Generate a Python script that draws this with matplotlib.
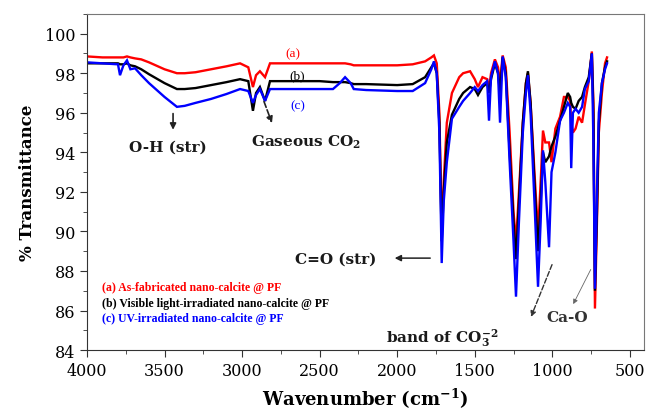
import matplotlib
matplotlib.use("Agg")
import matplotlib.pyplot as plt
from matplotlib.ticker import MultipleLocator

plt.rcParams['mathtext.fontset'] = 'dejavuserif'

wavenumber = [4000, 3900, 3800, 3787, 3765, 3742, 3720, 3690, 3650, 3600, 3500, 3420, 3370, 3300,
              3200, 3100, 3013, 2960, 2930, 2910, 2885, 2852, 2820, 2700, 2500, 2414, 2370, 2336,
              2300, 2280, 2200, 2000, 1900, 1820, 1780, 1763, 1745, 1728, 1713, 1700, 1680, 1647,
              1600, 1575, 1530, 1500, 1479, 1450, 1420, 1408, 1395, 1370, 1350, 1337, 1320, 1300,
              1275, 1250, 1234, 1215, 1190, 1170, 1157, 1140, 1115, 1092, 1075, 1060, 1045, 1021,
              1005, 980, 950, 925, 900, 885, 878, 867, 850, 830, 808, 790, 765, 745, 735, 725,
              712, 700, 680, 660, 647]

t_as_fabricated = [98.85, 98.8, 98.8, 98.8, 98.8, 98.85, 98.8, 98.75, 98.7, 98.55, 98.2, 98.0, 98.0, 98.05,
                   98.2, 98.35, 98.5, 98.3, 97.3, 97.9, 98.1, 97.8, 98.5, 98.5, 98.5, 98.5, 98.5, 98.5,
                   98.45, 98.4, 98.4, 98.4, 98.45, 98.6, 98.8, 98.9, 98.5, 96.0, 90.0, 92.5, 95.5, 97.0,
                   97.8, 98.0, 98.1, 97.7, 97.3, 97.8, 97.7, 97.2, 98.0, 98.7, 98.3, 97.5, 98.9, 98.3,
                   95.0, 91.0, 89.4, 92.0, 95.5, 97.5, 98.0, 96.5, 93.0, 89.9, 92.5, 95.1, 94.5, 94.5,
                   93.5, 95.2, 95.8, 96.8, 96.8, 96.6, 95.5, 95.0, 95.2, 95.8, 95.5, 96.4, 97.6, 99.1, 96.5, 86.1,
                   90.5, 95.0, 97.0, 98.5, 98.8]

t_visible = [98.5, 98.5, 98.5, 98.45, 98.45, 98.5, 98.4, 98.35, 98.2, 97.95, 97.5, 97.2, 97.2, 97.25,
             97.4, 97.55, 97.7, 97.6, 96.1, 97.0, 97.3, 96.6, 97.6, 97.6, 97.6, 97.55, 97.55, 97.55,
             97.5, 97.45, 97.45, 97.4, 97.45, 97.8, 98.3, 98.5, 98.0, 95.5, 89.5, 92.0, 94.5, 95.9,
             96.7, 97.0, 97.3, 97.2, 96.9, 97.3, 97.5, 97.0, 97.7, 98.5, 98.0, 97.0, 98.8, 98.0,
             94.0, 90.5, 88.6, 91.5, 95.5, 97.5, 98.1, 96.5, 92.5, 89.0, 91.5, 94.0, 93.5, 93.8,
             94.3, 94.8, 95.6, 96.3, 97.0, 96.8, 96.5, 96.3, 96.2, 96.6, 96.8, 97.3, 97.8, 99.0, 96.0, 87.0,
             91.0, 95.5, 97.5, 98.3, 98.6]

t_uv = [98.55, 98.5, 98.45, 97.9, 98.4, 98.65, 98.2, 98.25, 97.9, 97.5, 96.8, 96.3, 96.35, 96.5,
        96.7, 96.95, 97.2, 97.1, 96.5, 96.9, 97.2, 96.6, 97.2, 97.2, 97.2, 97.2, 97.5, 97.8,
        97.5, 97.2, 97.15, 97.1, 97.1, 97.5, 98.2, 98.6, 98.0, 95.0, 88.4, 91.5, 93.5, 95.7,
        96.3, 96.6, 97.0, 97.3, 97.1, 97.4, 97.6, 95.6, 97.8, 98.6, 98.0, 95.5, 98.85, 97.8,
        93.5, 89.5, 86.7, 90.5, 95.0, 97.0, 97.9, 96.0, 91.5, 87.2, 90.5, 94.1, 92.5, 89.2,
        93.0, 94.0, 95.6, 96.0, 96.5, 96.3, 93.2, 96.0, 96.2, 96.0, 96.3, 97.2, 97.6, 99.0, 94.5, 87.1,
        92.0, 96.0, 97.5, 98.2, 98.5]

legend_labels = ["(a) As-fabricated nano-calcite @ PF",
                 "(b) Visible light-irradiated nano-calcite @ PF",
                 "(c) UV-irradiated nano-calcite @ PF"]
colors = ["#ff0000", "#000000", "#0000ff"]

fig = plt.figure(figsize=(6.49, 4.14), dpi=100)
ax = fig.add_axes([0.134, 0.152, 0.858, 0.812])

for vals, c in zip([t_as_fabricated, t_visible, t_uv], colors):
    ax.plot(wavenumber, vals, color=c, lw=1.7, solid_joinstyle='miter')

ax.set_xlim(4000, 410)
ax.set_ylim(84, 101)
ax.xaxis.set_major_locator(MultipleLocator(500))
ax.xaxis.set_minor_locator(MultipleLocator(250))
ax.yaxis.set_major_locator(MultipleLocator(2))
ax.yaxis.set_minor_locator(MultipleLocator(1))
ax.tick_params(which='both', direction='out', top=False, right=False, color='#333333')
ax.tick_params(which='major', length=5, labelsize=11.5)
ax.tick_params(which='minor', length=3)
for lab in ax.get_xticklabels() + ax.get_yticklabels():
    lab.set_fontfamily('DejaVu Serif')
for s in ['left', 'bottom']:
    ax.spines[s].set_color('#333333')
for s in ['top', 'right']:
    ax.spines[s].set_color('#777777')

ax.set_xlabel("Wavenumber (cm$^{\\mathbf{-1}}$)", fontfamily='DejaVu Serif', fontweight='bold',
              fontsize=13, labelpad=5)
ax.set_ylabel("% Transmittance", fontfamily='DejaVu Serif', fontweight='bold', fontsize=12, labelpad=6)

# curve tags
ax.text(2672, 99.0, "(a)", color=colors[0], fontsize=9.5, family='Liberation Serif', ha='center', va='center')
ax.text(2646, 97.9, "(b)", color=colors[1], fontsize=9.5, family='Liberation Serif', ha='center', va='center')
ax.text(2640, 96.4, "(c)", color=colors[2], fontsize=9.5, family='Liberation Serif', ha='center', va='center')

# legend text
for i, (lab, c) in enumerate(zip(legend_labels, colors)):
    ax.text(3900, 87.2 - i * 0.8, lab, color=c, fontsize=8.5, fontweight='bold',
            family='Liberation Serif', ha='left', va='center')

tc = '#1a1a1a'
ax.text(3478, 94.3, "O-H (str)", fontsize=11, fontweight='bold', family='DejaVu Serif',
        ha='center', va='center', color=tc)
ax.annotate("", xy=(3445, 95.0), xytext=(3445, 96.1),
            arrowprops=dict(arrowstyle='-|>', color='#222222', lw=1.2, mutation_scale=9))
ax.text(2588, 94.55, "Gaseous CO$_\\mathbf{2}$", fontsize=11, fontweight='bold', family='DejaVu Serif',
        ha='center', va='center', color=tc)
ax.annotate("", xy=(2801, 95.35), xytext=(2865, 96.7),
            arrowprops=dict(arrowstyle='-|>', color='#222222', lw=1.2, ls='--', mutation_scale=9))
ax.text(2394, 88.6, "C=O (str)", fontsize=11, fontweight='bold', family='DejaVu Serif',
        ha='center', va='center', color=tc)
ax.annotate("", xy=(2034, 88.65), xytext=(1769, 88.65),
            arrowprops=dict(arrowstyle='-|>', color='#222222', lw=1.1, mutation_scale=9))
ax.text(2072, 84.65, "band of CO$_\\mathbf{3}^{\\mathbf{-2}}$", fontsize=11, fontweight='bold',
        family='DejaVu Serif', ha='left', va='center', color=tc)
ax.annotate("", xy=(1144, 85.55), xytext=(995, 88.45),
            arrowprops=dict(arrowstyle='-|>', color='#333333', lw=1.0, ls='--', mutation_scale=8))
ax.text(905, 85.65, "Ca-O", fontsize=11, fontweight='bold', family='DejaVu Serif',
        ha='center', va='center', color='#333333')
ax.annotate("", xy=(873, 86.2), xytext=(744, 88.2),
            arrowprops=dict(arrowstyle='-|>', color='#666666', lw=0.6, mutation_scale=7))

fig.savefig("out.png", dpi=100)
